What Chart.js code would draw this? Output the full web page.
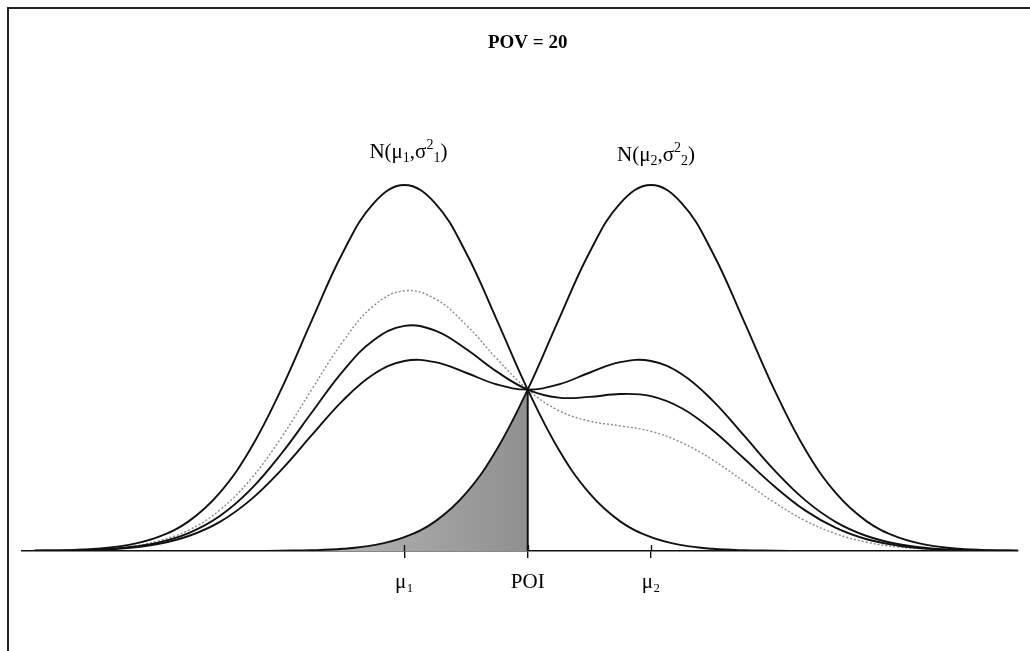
<!DOCTYPE html>
<html>
<head>
<meta charset="utf-8">
<title>POV = 20</title>
<script src="https://cdn.jsdelivr.net/npm/chart.js"></script>
<style>
  html, body { margin:0; padding:0; background:#fff; }
  #wrap { width:1030px; height:651px; }
</style>
</head>
<body>
<div id="wrap"><canvas id="chart" width="1030" height="651"></canvas></div>
<script>
/* ---------- Data (x in sigma units, POI = 0) ---------- */
const xs = [-5.12,-4.80,-4.48,-4.16,-3.84,-3.52,-3.20,-2.88,-2.56,-2.24,-1.92,-1.60,-1.28,-0.96,-0.64,-0.32,
            0,
            0.32,0.64,0.96,1.28,1.60,1.92,2.24,2.56,2.88,3.20,3.52,3.84,4.16,4.48,4.80,5.12];

// N(mu1, s1^2), peak = 1
const curve1 = [0.001,0.002,0.006,0.016,0.038,0.081,0.158,0.278,0.441,0.631,0.815,0.950,1.000,0.950,0.815,0.631,
                0.441,
                0.278,0.158,0.081,0.038,0.016,0.006,0.002,0.001,0,0,0,0,0,0,0,0];
// N(mu2, s2^2)
const curve2 = [0,0,0,0,0,0,0,0,0.001,0.002,0.006,0.016,0.038,0.081,0.158,0.278,
                0.441,
                0.631,0.815,0.950,1.000,0.950,0.815,0.631,0.441,0.278,0.158,0.081,0.038,0.016,0.006,0.002,0.001];
// mixtures between them
const mix50 = [0.001,0.001,0.003,0.008,0.019,0.041,0.079,0.139,0.221,0.317,0.411,0.483,0.519,0.516,0.487,0.455,
               0.441,
               0.455,0.487,0.516,0.519,0.483,0.411,0.317,0.221,0.139,0.079,0.041,0.019,0.008,0.003,0.001,0.001];
const mix60 = [0.001,0.001,0.004,0.010,0.023,0.049,0.095,0.167,0.265,0.379,0.491,0.576,0.615,0.602,0.552,0.490,
               0.441,
               0.419,0.421,0.429,0.423,0.390,0.330,0.254,0.177,0.111,0.063,0.032,0.015,0.006,0.002,0.001,0];
const mix70 = [0.001,0.001,0.004,0.011,0.027,0.057,0.111,0.195,0.309,0.442,0.572,0.670,0.711,0.689,0.618,0.525,
               0.441,
               0.384,0.355,0.342,0.327,0.296,0.249,0.191,0.133,0.083,0.047,0.024,0.011,0.005,0.002,0.001,0];

const tickPos = [-1.28, 0, 1.28];
const tickLabels = ['μ₁', 'POI', 'μ₂'];
const titleText = 'POV = 20';
const poiHeight = 0.441;

/* ---------- Helpers ---------- */
const pts = arr => xs.map((x, i) => ({x, y: arr[i]}));
const shadePts = xs.map((x, i) => ({x, y: curve2[i]})).filter(p => p.x <= 0);

function drawRuns(c, runs, cx, baseY){
  let w = 0;
  runs.forEach(r => { c.font = r.font; w += c.measureText(r.t).width; });
  let x = cx - w/2;
  c.textAlign = 'left'; c.textBaseline = 'alphabetic';
  runs.forEach(r => { c.font = r.font; c.fillText(r.t, x, baseY + (r.dy||0)); x += c.measureText(r.t).width; });
}
function nLabel(k){
  const big = '21px "Liberation Serif"', small = '14px "Liberation Serif"';
  return [
    {t:'N(μ', font:big}, {t:k, font:small, dy:4}, {t:',σ', font:big},
    {t:'2', font:small, dy:-9}, {t:k, font:small, dy:4}, {t:')', font:big}
  ];
}

/* ---------- Annotations: frame, title, curve names ---------- */
const annot = {
  id: 'annot',
  afterDraw(chart){
    const c = chart.ctx, xS = chart.scales.x, yS = chart.scales.y;
    c.save();
    // frame (left + top)
    c.strokeStyle = '#222'; c.lineWidth = 2;
    c.beginPath(); c.moveTo(8, 651); c.lineTo(8, 8); c.lineTo(1030, 8); c.stroke();
    // upper half of the tick marks
    c.strokeStyle = '#111'; c.lineWidth = 1.4;
    const y0 = yS.getPixelForValue(0);
    tickPos.forEach(v => {
      const px = Math.round(xS.getPixelForValue(v)) + 0.5;
      c.beginPath(); c.moveTo(px, y0 - 6); c.lineTo(px, y0); c.stroke();
    });
    // title
    c.fillStyle = '#000';
    c.font = 'bold 19px "Liberation Serif"';
    c.textAlign = 'center'; c.textBaseline = 'middle';
    c.fillText(titleText, xS.getPixelForValue(0), 43);
    // curve names
    drawRuns(c, nLabel('1'), xS.getPixelForValue(tickPos[0]) + 4, yS.getPixelForValue(1.074));
    drawRuns(c, nLabel('2'), xS.getPixelForValue(tickPos[2]) + 5, yS.getPixelForValue(1.066));
    c.restore();
  }
};

/* ---------- Chart ---------- */
const black = '#111';
const lineDs = (data, extra) => Object.assign({
  data, borderColor: black, borderWidth: 1.9, pointRadius: 0,
  tension: 0.4, fill: false
}, extra || {});

new Chart(document.getElementById('chart'), {
  type: 'line',
  data: {
    datasets: [
      lineDs(pts(curve1)),
      lineDs(pts(curve2)),
      lineDs(pts(mix50)),
      lineDs(pts(mix60)),
      lineDs(pts(mix70), {borderColor:'#8a8a8a', borderWidth:1.4, borderDash:[2,2]}),
      lineDs([{x:0, y:0}, {x:0, y:poiHeight}], {borderWidth:2, tension:0}),
      lineDs(shadePts, {
        borderWidth: 0, fill: 'origin', order: 10,
        backgroundColor: (ctx) => {
          const ch = ctx.chart;
          if (!ch.chartArea) return '#999';
          const xS = ch.scales.x;
          const g = ch.ctx.createLinearGradient(xS.getPixelForValue(-3.0), 0, xS.getPixelForValue(0), 0);
          g.addColorStop(0, '#c4c4c4');
          g.addColorStop(1, '#909090');
          return g;
        }
      })
    ]
  },
  options: {
    responsive: false,
    animation: false,
    devicePixelRatio: 1,
    layout: { padding: { left: 22, right: 12, top: 111.8, bottom: 0 } },
    plugins: { legend: { display: false }, tooltip: { enabled: false }, title: { display: false } },
    scales: {
      x: {
        type: 'linear', min: -5.25, max: 5.09,
        afterBuildTicks: s => { s.ticks = tickPos.map(v => ({value: v})); },
        afterFit: s => { s.height = 100; },
        border: { display: true, color: black, width: 1.6 },
        grid: { display: true, drawOnChartArea: false, drawTicks: true, tickLength: 7, color: black, lineWidth: 1.4 },
        ticks: {
          autoSkip: false, maxRotation: 0, padding: 12, color: '#000',
          font: { family: '"Liberation Serif"', size: 21 },
          callback: (v, i) => tickLabels[i]
        }
      },
      y: { display: false, min: 0, max: 1.2 }
    }
  },
  plugins: [annot]
});
</script>
</body>
</html>
